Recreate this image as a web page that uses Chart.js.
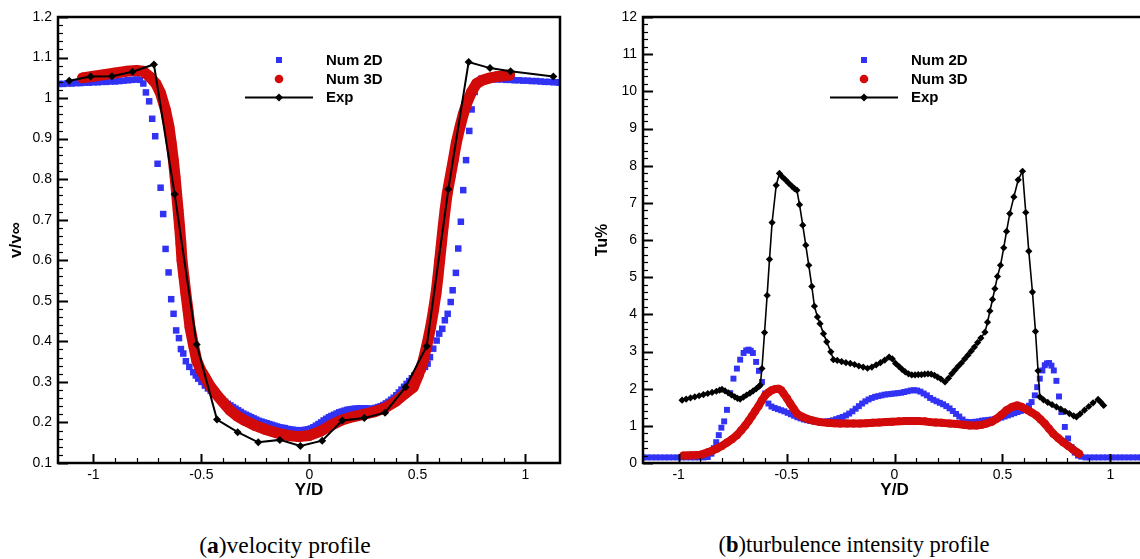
<!DOCTYPE html>
<html><head><meta charset="utf-8">
<script src="https://cdn.jsdelivr.net/npm/chart.js@4.4.1/dist/chart.umd.min.js"></script>
<style>
html,body{margin:0;padding:0;background:#fff;overflow:hidden;width:1140px;height:559px;}
#wrapA{position:absolute;left:0;top:0;width:575px;height:505px;}
#wrapB{position:absolute;left:575px;top:0;width:581px;height:505px;}
.cap{position:absolute;top:531px;font-family:'Liberation Serif','Times New Roman',serif;font-size:22.5px;color:#000;white-space:nowrap;transform:translateX(-50%);line-height:28px;}
</style></head><body>
<div id="wrapA"><canvas id="cA" width="575" height="505"></canvas></div>
<div id="wrapB"><canvas id="cB" width="581" height="505"></canvas></div>
<div class="cap" style="left:285px;font-size:23.5px">(<b>a</b>)velocity profile</div>
<div class="cap" style="left:854px">(<b>b</b>)turbulence intensity profile</div>
<script>
// ---------- (a) velocity profile ----------
const seriesLabels = ['Num 2D', 'Num 3D', 'Exp'];

const velExpX = [-1.112,-1.013,-0.914,-0.819,-0.720,-0.624,-0.522,-0.428,-0.332,-0.237,-0.137,-0.042,0.059,0.152,0.254,0.350,0.445,0.543,0.643,0.737,0.836,0.931,1.129];
const velExpY = [1.043,1.053,1.054,1.065,1.083,0.763,0.392,0.207,0.176,0.151,0.157,0.142,0.155,0.205,0.211,0.224,0.287,0.388,0.775,1.089,1.074,1.066,1.053];

const vel2dX = [-1.16,-1.14,-1.12,-1.10,-1.08,-1.06,-1.04,-1.02,-1.00,-0.98,-0.96,-0.94,-0.92,-0.90,-0.88,-0.86,-0.84,-0.82,-0.80,-0.785,-0.769,-0.757,-0.742,-0.728,-0.714,-0.703,-0.689,-0.677,-0.666,-0.652,-0.640,-0.629,-0.617,-0.604,-0.595,-0.584,-0.572,-0.556,-0.538,-0.526,-0.515,-0.500,-0.484,-0.470,-0.457,-0.443,-0.430,-0.416,-0.402,-0.390,-0.378,-0.366,-0.354,-0.342,-0.330,-0.318,-0.306,-0.294,-0.282,-0.270,-0.258,-0.246,-0.234,-0.222,-0.210,-0.198,-0.186,-0.174,-0.162,-0.150,-0.138,-0.126,-0.114,-0.102,-0.090,-0.078,-0.066,-0.054,-0.042,-0.030,-0.018,-0.006,0.006,0.018,0.030,0.042,0.054,0.066,0.078,0.090,0.102,0.114,0.126,0.138,0.150,0.162,0.174,0.186,0.198,0.210,0.222,0.234,0.246,0.258,0.270,0.282,0.294,0.306,0.318,0.330,0.342,0.354,0.366,0.378,0.390,0.402,0.414,0.426,0.438,0.450,0.462,0.474,0.486,0.500,0.512,0.524,0.535,0.547,0.558,0.573,0.589,0.601,0.615,0.627,0.640,0.654,0.663,0.678,0.689,0.701,0.712,0.725,0.740,0.751,0.765,0.780,0.797,0.81,0.83,0.85,0.87,0.89,0.91,0.93,0.95,0.97,0.99,1.01,1.03,1.05,1.07,1.09,1.11,1.13,1.15,1.16];
const vel2dY = [1.035,1.035,1.036,1.036,1.037,1.037,1.038,1.038,1.039,1.039,1.040,1.040,1.041,1.041,1.042,1.043,1.044,1.045,1.046,1.045,1.036,1.014,0.992,0.949,0.906,0.838,0.779,0.714,0.628,0.570,0.504,0.468,0.427,0.408,0.381,0.370,0.351,0.337,0.324,0.316,0.308,0.300,0.291,0.284,0.278,0.272,0.267,0.261,0.256,0.251,0.246,0.242,0.238,0.234,0.230,0.226,0.222,0.219,0.216,0.213,0.210,0.207,0.204,0.202,0.200,0.198,0.196,0.194,0.192,0.190,0.188,0.187,0.186,0.184,0.183,0.182,0.181,0.181,0.180,0.181,0.182,0.183,0.185,0.188,0.192,0.196,0.200,0.205,0.209,0.213,0.216,0.219,0.222,0.225,0.227,0.229,0.231,0.232,0.233,0.234,0.234,0.235,0.235,0.235,0.234,0.234,0.234,0.236,0.238,0.240,0.243,0.247,0.251,0.256,0.261,0.267,0.274,0.281,0.288,0.295,0.302,0.309,0.316,0.320,0.326,0.332,0.337,0.345,0.361,0.382,0.402,0.419,0.431,0.452,0.468,0.497,0.526,0.569,0.629,0.695,0.773,0.847,0.919,0.972,1.015,1.040,1.048,1.048,1.047,1.047,1.046,1.046,1.045,1.045,1.044,1.044,1.043,1.043,1.042,1.042,1.041,1.040,1.040,1.039,1.039,1.038,1.038];

const vel3dX = [-1.05,-1.00,-0.95,-0.90,-0.85,-0.80,-0.77,-0.738,-0.71,-0.689,-0.666,-0.650,-0.640,-0.630,-0.622,-0.615,-0.608,-0.601,-0.595,-0.590,-0.581,-0.572,-0.562,-0.553,-0.538,-0.522,-0.504,-0.484,-0.460,-0.433,-0.400,-0.368,-0.335,-0.300,-0.250,-0.200,-0.150,-0.100,-0.050,0.000,0.050,0.100,0.150,0.200,0.250,0.300,0.350,0.400,0.440,0.481,0.505,0.527,0.545,0.561,0.574,0.586,0.595,0.603,0.611,0.619,0.628,0.638,0.652,0.666,0.680,0.697,0.712,0.728,0.750,0.774,0.800,0.830,0.867,0.900,0.927];
const vel3dY = [1.050,1.054,1.058,1.062,1.066,1.068,1.066,1.052,1.035,1.012,0.970,0.929,0.890,0.847,0.806,0.765,0.724,0.682,0.641,0.600,0.559,0.518,0.476,0.435,0.394,0.353,0.330,0.312,0.290,0.271,0.250,0.230,0.216,0.205,0.192,0.182,0.174,0.168,0.165,0.168,0.178,0.193,0.206,0.214,0.220,0.226,0.236,0.252,0.270,0.287,0.318,0.353,0.394,0.435,0.476,0.518,0.559,0.600,0.641,0.682,0.724,0.765,0.806,0.847,0.890,0.929,0.960,0.987,1.015,1.036,1.044,1.049,1.053,1.055,1.057];

// ---------- (b) turbulence intensity profile ----------
const tuExpX = [-0.984,-0.965,-0.945,-0.925,-0.905,-0.885,-0.865,-0.845,-0.825,-0.810,-0.799,-0.785,-0.770,-0.755,-0.740,-0.727,-0.715,-0.700,-0.685,-0.670,-0.655,-0.640,-0.628,-0.622,-0.614,-0.602,-0.590,-0.579,-0.567,-0.548,-0.533,-0.520,-0.505,-0.490,-0.476,-0.463,-0.452,-0.440,-0.425,-0.411,-0.397,-0.383,-0.371,-0.357,-0.345,-0.329,-0.314,-0.295,-0.283,-0.265,-0.245,-0.225,-0.205,-0.185,-0.165,-0.145,-0.125,-0.105,-0.085,-0.065,-0.045,-0.025,-0.010,0.005,0.020,0.035,0.050,0.065,0.080,0.095,0.110,0.125,0.140,0.155,0.170,0.185,0.200,0.215,0.234,0.250,0.265,0.280,0.295,0.310,0.325,0.340,0.355,0.370,0.385,0.400,0.419,0.431,0.442,0.454,0.465,0.477,0.491,0.506,0.519,0.534,0.553,0.573,0.593,0.608,0.622,0.639,0.653,0.665,0.673,0.690,0.710,0.730,0.750,0.770,0.790,0.810,0.830,0.843,0.860,0.880,0.900,0.920,0.943,0.955,0.969];
const tuExpY = [1.69,1.72,1.75,1.78,1.81,1.84,1.87,1.90,1.93,1.96,1.98,1.94,1.89,1.83,1.78,1.74,1.72,1.77,1.83,1.88,1.94,2.00,2.06,2.09,2.54,3.51,4.51,5.48,6.47,7.47,7.79,7.70,7.62,7.53,7.45,7.38,7.34,6.95,6.40,5.86,5.32,4.75,4.22,3.93,3.75,3.48,3.26,2.99,2.78,2.76,2.73,2.70,2.68,2.65,2.61,2.58,2.55,2.58,2.64,2.70,2.77,2.85,2.80,2.68,2.60,2.52,2.45,2.40,2.37,2.37,2.38,2.38,2.39,2.40,2.39,2.36,2.31,2.26,2.18,2.28,2.40,2.50,2.60,2.69,2.80,2.90,3.01,3.12,3.24,3.36,3.52,3.79,4.09,4.40,4.69,5.02,5.32,5.79,6.23,6.71,7.16,7.62,7.85,6.74,5.70,4.60,3.54,2.48,1.78,1.70,1.63,1.57,1.51,1.45,1.39,1.33,1.27,1.24,1.32,1.42,1.52,1.62,1.71,1.64,1.55];

const tu2dX = [-1.165,-1.145,-1.125,-1.105,-1.085,-1.065,-1.045,-1.025,-1.005,-0.985,-0.965,-0.945,-0.925,-0.905,-0.885,-0.865,-0.848,-0.837,-0.826,-0.814,-0.802,-0.789,-0.776,-0.761,-0.746,-0.730,-0.715,-0.699,-0.687,-0.676,-0.666,-0.656,-0.641,-0.628,-0.614,-0.599,-0.584,-0.570,-0.555,-0.540,-0.525,-0.510,-0.495,-0.480,-0.465,-0.450,-0.435,-0.420,-0.405,-0.390,-0.375,-0.360,-0.345,-0.330,-0.315,-0.300,-0.285,-0.270,-0.255,-0.240,-0.225,-0.210,-0.195,-0.180,-0.165,-0.150,-0.135,-0.120,-0.105,-0.090,-0.075,-0.060,-0.045,-0.030,-0.015,0.000,0.015,0.030,0.045,0.060,0.075,0.090,0.105,0.120,0.135,0.150,0.165,0.180,0.195,0.210,0.225,0.240,0.255,0.270,0.285,0.300,0.315,0.330,0.345,0.360,0.375,0.390,0.405,0.420,0.435,0.450,0.465,0.480,0.495,0.510,0.525,0.540,0.555,0.570,0.585,0.600,0.611,0.623,0.635,0.650,0.661,0.673,0.685,0.696,0.706,0.716,0.727,0.738,0.750,0.762,0.773,0.789,0.804,0.820,0.835,0.850,0.865,0.885,0.905,0.925,0.945,0.965,0.985,1.005,1.025,1.045,1.065,1.085,1.105,1.125,1.145,1.165];
const tu2dY = [0.15,0.15,0.15,0.15,0.15,0.15,0.15,0.15,0.15,0.15,0.15,0.15,0.15,0.15,0.15,0.16,0.25,0.40,0.56,0.75,0.95,1.12,1.43,1.88,2.27,2.54,2.78,2.96,3.03,3.05,3.02,2.96,2.72,2.48,2.18,1.87,1.60,1.52,1.48,1.45,1.42,1.39,1.35,1.31,1.27,1.23,1.20,1.17,1.15,1.13,1.12,1.11,1.10,1.11,1.12,1.13,1.15,1.18,1.21,1.24,1.28,1.33,1.39,1.46,1.53,1.60,1.66,1.71,1.75,1.78,1.80,1.82,1.84,1.85,1.86,1.87,1.88,1.89,1.91,1.93,1.95,1.96,1.95,1.92,1.87,1.82,1.75,1.70,1.66,1.62,1.58,1.53,1.47,1.40,1.32,1.25,1.17,1.11,1.10,1.10,1.11,1.12,1.14,1.15,1.16,1.17,1.18,1.20,1.22,1.25,1.28,1.31,1.34,1.37,1.40,1.43,1.46,1.54,1.64,1.82,2.04,2.27,2.49,2.63,2.68,2.69,2.62,2.49,2.21,1.79,1.37,0.97,0.66,0.43,0.28,0.20,0.17,0.15,0.15,0.15,0.15,0.15,0.15,0.15,0.15,0.15,0.15,0.15,0.15,0.15,0.15,0.15];

const tu3dX = [-0.977,-0.960,-0.940,-0.920,-0.900,-0.884,-0.865,-0.845,-0.822,-0.800,-0.776,-0.753,-0.730,-0.710,-0.691,-0.676,-0.661,-0.645,-0.630,-0.615,-0.599,-0.584,-0.568,-0.552,-0.537,-0.525,-0.514,-0.498,-0.483,-0.467,-0.452,-0.430,-0.406,-0.375,-0.345,-0.310,-0.280,-0.252,-0.220,-0.190,-0.160,-0.130,-0.100,-0.070,-0.040,-0.010,0.020,0.050,0.080,0.110,0.140,0.164,0.190,0.220,0.257,0.290,0.320,0.349,0.380,0.405,0.426,0.450,0.473,0.496,0.519,0.545,0.568,0.590,0.611,0.635,0.657,0.677,0.696,0.716,0.735,0.758,0.781,0.805,0.827,0.845,0.855];
const tu3dY = [0.20,0.20,0.21,0.21,0.22,0.25,0.29,0.33,0.39,0.46,0.55,0.64,0.75,0.88,1.01,1.13,1.26,1.40,1.53,1.68,1.82,1.90,1.96,1.99,2.00,1.96,1.87,1.74,1.60,1.46,1.33,1.25,1.19,1.14,1.10,1.08,1.07,1.06,1.06,1.06,1.06,1.07,1.08,1.09,1.10,1.11,1.12,1.13,1.13,1.13,1.12,1.10,1.09,1.08,1.06,1.05,1.03,1.01,1.01,1.03,1.06,1.11,1.19,1.30,1.42,1.51,1.55,1.51,1.44,1.36,1.28,1.17,1.06,0.92,0.79,0.67,0.56,0.46,0.36,0.29,0.25];

// ---------- helpers ----------
const BLUE = '#3232f5', RED = '#d20a0a', BLACK = '#000000';
const SANS = "'Liberation Sans', Arial, Helvetica, sans-serif";
function pts(xs, ys) { return xs.map((x, i) => ({x: x, y: ys[i]})); }
function isMult(v, s) { const q = v / s; return Math.abs(q - Math.round(q)) < 1e-6; }

const framePlugin = {
  id: 'frame',
  afterDatasetsDraw(chart, args, o) {
    const {ctx, chartArea: a, scales} = chart;
    ctx.save();
    ctx.strokeStyle = '#000';
    scales.x.ticks.forEach(t => {
      const v = t.value;
      if (!isMult(v, o.xMinor)) return;
      const major = isMult(v, o.xMajor);
      const p = Math.round(scales.x.getPixelForValue(v)) + 0.5;
      ctx.lineWidth = major ? 2 : 1.2;
      ctx.beginPath(); ctx.moveTo(p, a.bottom); ctx.lineTo(p, a.bottom - (major ? 9 : 5)); ctx.stroke();
    });
    scales.y.ticks.forEach(t => {
      const v = t.value;
      if (!isMult(v, o.yMinor)) return;
      const major = isMult(v, o.yMajor);
      const p = Math.round(scales.y.getPixelForValue(v)) + 0.5;
      ctx.lineWidth = major ? 2 : 1.2;
      ctx.beginPath(); ctx.moveTo(a.left, p); ctx.lineTo(a.left + (major ? 10 : 5), p); ctx.stroke();
    });
    ctx.lineWidth = 2.5;
    ctx.strokeRect(a.left, a.top, a.right - a.left, a.bottom - a.top);
    ctx.restore();
  }
};

const legendPlugin = {
  id: 'keybox',
  afterDraw(chart, args, o) {
    const {ctx, chartArea: a} = chart;
    const ds = chart.data.datasets;
    const mx = a.left + 221, tx = a.left + 268;
    const rows = [a.top + 43, a.top + 62, a.top + 80.5];
    ctx.save();
    const d2 = ds.find(d => d.label === seriesLabels[0]);
    ctx.fillStyle = d2.pointBackgroundColor;
    ctx.fillRect(mx - 3, rows[0] - 3, 6, 6);
    const d3 = ds.find(d => d.label === seriesLabels[1]);
    ctx.fillStyle = d3.pointBackgroundColor;
    ctx.beginPath(); ctx.arc(mx, rows[1], 4.3, 0, Math.PI * 2); ctx.fill();
    ctx.strokeStyle = BLACK; ctx.lineWidth = 2;
    ctx.beginPath(); ctx.moveTo(a.left + 187, rows[2]); ctx.lineTo(a.left + 255, rows[2]); ctx.stroke();
    ctx.fillStyle = BLACK;
    ctx.beginPath(); ctx.moveTo(mx - 4, rows[2]); ctx.lineTo(mx, rows[2] - 4); ctx.lineTo(mx + 4, rows[2]); ctx.lineTo(mx, rows[2] + 4); ctx.closePath(); ctx.fill();
    ctx.font = 'bold 15px ' + SANS;
    ctx.textBaseline = 'middle'; ctx.textAlign = 'left'; ctx.fillStyle = '#000';
    seriesLabels.forEach((l, i) => ctx.fillText(l, tx, rows[i] + 0.5));
    ctx.restore();
  }
};

function makeChart(id, cfg) {
  const datasets = [
    {label: seriesLabels[2], data: pts(cfg.expX, cfg.expY), showLine: true, borderColor: BLACK, borderWidth: cfg.expLW,
     pointStyle: 'rectRot', pointRadius: cfg.expR, pointBackgroundColor: BLACK, pointBorderWidth: 0, order: 0},
    {label: seriesLabels[1], data: pts(cfg.d3X, cfg.d3Y), showLine: true, borderColor: RED, borderWidth: cfg.redLW,
     borderCapStyle: 'round', borderJoinStyle: 'round',
     pointStyle: 'circle', pointRadius: cfg.redR, pointBackgroundColor: RED, pointBorderWidth: 0, order: 1},
    {label: seriesLabels[0], data: pts(cfg.d2X, cfg.d2Y), showLine: false,
     pointStyle: 'rect', pointRadius: cfg.blueR, pointBackgroundColor: BLUE, pointBorderWidth: 0, order: 2}
  ];
  return new Chart(document.getElementById(id), {
    type: 'scatter',
    data: {datasets: datasets},
    plugins: [framePlugin, legendPlugin],
    options: {
      responsive: false, animation: false, events: [],
      layout: {padding: {left: 0, top: 17, right: cfg.padRight, bottom: 0}},
      plugins: {legend: {display: false}, tooltip: {enabled: false},
        frame: {xMinor: 0.1, xMajor: 0.5, yMinor: cfg.yMinor, yMajor: cfg.yMajor}, keybox: {}},
      scales: {
        x: {type: 'linear', min: cfg.xMin, max: cfg.xMax,
          grid: {display: false, drawTicks: false}, border: {display: false},
          ticks: {stepSize: 0.1, autoSkip: false, maxRotation: 0, padding: 4, color: '#000',
            font: {family: SANS, size: 14},
            callback: v => isMult(v, 0.5) ? String(Math.round(v * 10) / 10) : ''},
          title: {display: true, text: 'Y/D', color: '#000', font: {family: SANS, size: 17, weight: 'bold'}, padding: {top: 0, bottom: 4}},
          afterFit: s => { s.height = 42; }
        },
        y: {type: 'linear', min: cfg.yMin, max: cfg.yMax,
          grid: {display: false, drawTicks: false}, border: {display: false},
          ticks: {stepSize: cfg.yMinor, autoSkip: false, padding: 6, color: '#000',
            font: {family: SANS, size: 14},
            callback: v => isMult(v, cfg.yMajor) ? String(Math.round(v * 10) / 10) : ''},
          title: {display: true, text: cfg.yTitle, color: '#000', font: {family: SANS, size: cfg.yTitleSize, weight: 'bold'}, padding: {top: cfg.yTitlePad, bottom: 0}},
          afterFit: s => { s.width = cfg.yWidth; }
        }
      }
    }
  });
}

makeChart('cA', {
  expX: velExpX, expY: velExpY, d2X: vel2dX, d2Y: vel2dY, d3X: vel3dX, d3Y: vel3dY,
  expLW: 2, expR: 4, redLW: 11, redR: 5.3, blueR: 4.6,
  xMin: -1.164, xMax: 1.16, yMin: 0.1, yMax: 1.2, yMinor: 0.02, yMajor: 0.1,
  yTitle: 'v/v\u221E', yTitleSize: 17, yTitlePad: 6, yWidth: 58, padRight: 15
});
makeChart('cB', {
  expX: tuExpX, expY: tuExpY, d2X: tu2dX, d2Y: tu2dY, d3X: tu3dX, d3Y: tu3dY,
  expLW: 1.6, expR: 3.6, redLW: 8, redR: 4, blueR: 4.2,
  xMin: -1.165, xMax: 1.165, yMin: 0, yMax: 12, yMinor: 0.2, yMajor: 1,
  yTitle: 'Tu%', yTitleSize: 16, yTitlePad: 18, yWidth: 68, padRight: 10
});
</script>
</body></html>
